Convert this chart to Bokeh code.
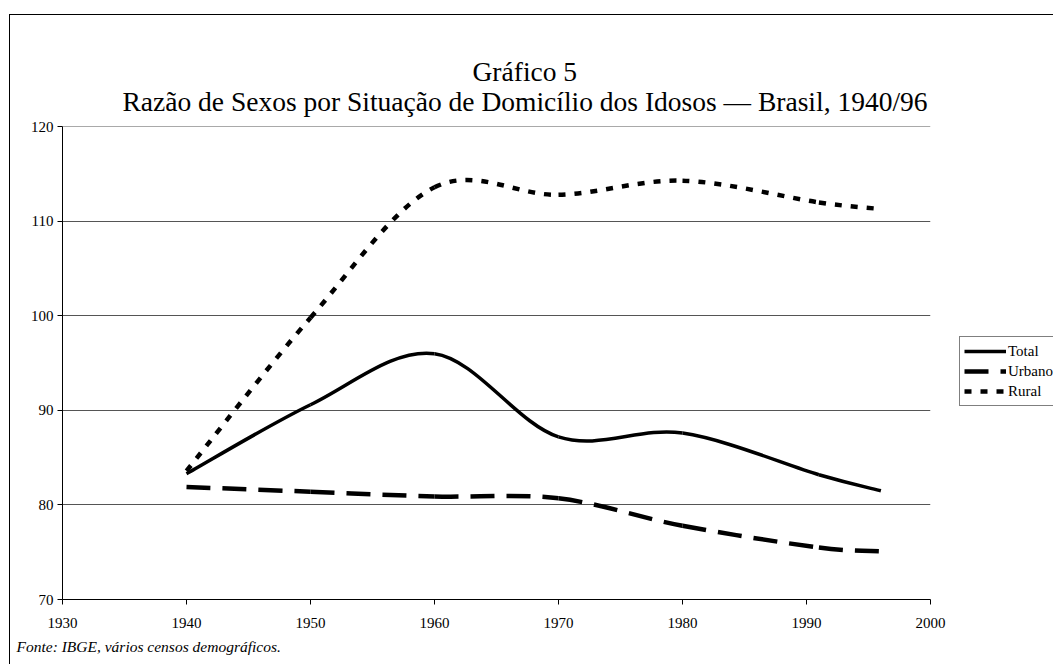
from bokeh.plotting import figure
from bokeh.models import Legend, LegendItem, Title, FixedTicker, Range1d
from bokeh.embed import file_html
from bokeh.resources import INLINE

# ---- data ----
years = [1940, 1950, 1960, 1970, 1980, 1991, 1996]
total = [83.3, 90.6, 96.0, 87.2, 87.6, 83.2, 81.5]
urbano = [81.9, 81.4, 80.9, 80.7, 77.8, 75.5, 75.1]
rural = [83.6, 99.8, 113.6, 112.8, 114.3, 112.0, 111.3]

x_ticks = [1930, 1940, 1950, 1960, 1970, 1980, 1990, 2000]
y_ticks = [70, 80, 90, 100, 110, 120]

title1 = "Gráfico 5"
title2 = "Razão de Sexos por Situação de Domicílio dos Idosos — Brasil, 1940/96"
footnote = "Fonte: IBGE, vários censos demográficos."

FONT = "Liberation Serif"

p = figure(frame_width=868, frame_height=473, output_backend="svg", toolbar_location=None,
           x_range=Range1d(1930, 2000), y_range=Range1d(70, 120.03),
           min_border_left=62, min_border_right=123, min_border_top=126,
           min_border_bottom=65)
p.outline_line_color = None
p.background_fill_color = "white"
p.border_fill_color = None
# outer frame of the page (only its top and left edges fall inside the window)
p.styles = {
    "background-color": "white",
    "background-image": "linear-gradient(#000,#000), linear-gradient(#000,#000)",
    "background-position": "9px 14px, 9px 14px",
    "background-size": "1px 2000px, 2000px 1px",
    "background-repeat": "no-repeat",
}

# axes
for ax in (p.xaxis[0], p.yaxis[0]):
    ax.axis_line_color = "black"
    ax.axis_line_width = 1
    ax.major_tick_line_color = "black"
    ax.major_tick_out = 5
    ax.major_tick_in = 0
    ax.minor_tick_line_color = None
    ax.major_label_text_font = FONT
    ax.major_label_text_font_size = "15px"
    ax.major_label_text_color = "black"
p.xaxis[0].ticker = FixedTicker(ticks=x_ticks)
p.yaxis[0].ticker = FixedTicker(ticks=y_ticks)
p.xaxis[0].major_label_standoff = 13
p.yaxis[0].major_label_standoff = 4

p.xgrid.grid_line_color = None
p.ygrid.ticker = FixedTicker(ticks=y_ticks)
p.ygrid.grid_line_color = "#555555"
p.ygrid.grid_line_width = 1


def smooth_segments(xs, ys):
    """Catmull-Rom style Bezier control points (like a spreadsheet's smoothed line)."""
    n = len(xs)
    d = dict(x0=[], y0=[], x1=[], y1=[], cx0=[], cy0=[], cx1=[], cy1=[])
    for i in range(n - 1):
        pm = max(i - 1, 0)
        pp = min(i + 2, n - 1)
        d["x0"].append(xs[i]); d["y0"].append(ys[i])
        d["x1"].append(xs[i + 1]); d["y1"].append(ys[i + 1])
        d["cx0"].append(xs[i] + (xs[i + 1] - xs[pm]) / 6.0)
        d["cy0"].append(ys[i] + (ys[i + 1] - ys[pm]) / 6.0)
        d["cx1"].append(xs[i + 1] - (xs[pp] - xs[i]) / 6.0)
        d["cy1"].append(ys[i + 1] - (ys[pp] - ys[i]) / 6.0)
    return d


bz = dict(x0="x0", y0="y0", x1="x1", y1="y1", cx0="cx0", cy0="cy0", cx1="cx1", cy1="cy1")
r_total = p.bezier(source=smooth_segments(years, total), line_color="black",
                   line_width=3.5, **bz)
r_urb = p.bezier(source=smooth_segments(years, urbano), line_color="black",
                 line_width=4.5, line_dash="24 12", **bz)
r_rur = p.bezier(source=smooth_segments(years, rural), line_color="black",
                 line_width=4.5, line_dash="7 9", **bz)

legend = Legend(items=[LegendItem(label="Total", renderers=[r_total]),
                       LegendItem(label="Urbano", renderers=[r_urb]),
                       LegendItem(label="Rural", renderers=[r_rur])],
                location=(29, 193), orientation="vertical")
legend.border_line_color = "black"
legend.border_line_width = 1
legend.background_fill_color = "white"
legend.background_fill_alpha = 1
legend.label_text_font = FONT
legend.label_text_font_size = "15px"
legend.label_text_color = "black"
legend.glyph_width = 42
legend.glyph_height = 20
legend.label_height = 20
legend.label_standoff = 2
legend.padding = 4
legend.spacing = 0
legend.margin = 0
p.add_layout(legend, "right")

# titles: the one added first sits nearest the frame
p.add_layout(Title(text=title2, align="left", offset=60, text_font=FONT,
                   text_font_size="27.5px", text_font_style="normal",
                   text_color="black", standoff=19), "above")
p.add_layout(Title(text=title1, align="left", offset=410, text_font=FONT,
                   text_font_size="27.5px", text_font_style="normal",
                   text_color="black", standoff=-25), "above")
p.add_layout(Title(text=footnote, align="left", offset=-46, text_font=FONT,
                   text_font_size="15.5px", text_font_style="italic",
                   text_color="black", standoff=11), "below")

open("out.html", "w").write(file_html(p, INLINE))
